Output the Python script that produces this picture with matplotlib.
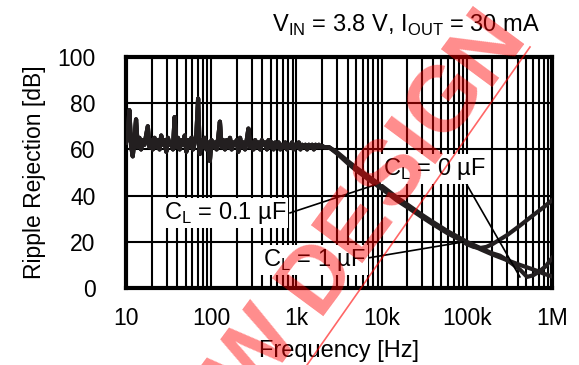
import matplotlib
matplotlib.use('Agg')
import matplotlib.pyplot as plt
import numpy as np
from matplotlib.ticker import FixedLocator, NullFormatter
from matplotlib.lines import Line2D

plt.rcParams['font.family'] = ['Liberation Sans', 'DejaVu Sans']
plt.rcParams['mathtext.fontset'] = 'custom'
plt.rcParams['mathtext.rm'] = 'Liberation Sans'

# noisy low-frequency part (10 Hz .. 2.2 kHz)
noise_db = [63, 65, 77, 62, 57, 64, 73, 61, 65, 60,
            64, 62, 66, 70, 61, 64, 60, 65, 61, 64,
            60, 66, 62, 64, 59, 65, 62, 63, 60, 74,
            61, 65, 60, 64, 62, 66, 59, 64, 61, 65,
            60, 63, 67, 82, 58, 64, 61, 65, 60, 63,
            55, 64, 61, 63, 60, 65, 72, 61, 64, 60,
            64, 61, 65, 60, 63, 62, 64, 59, 65, 61,
            63, 60, 64, 69, 61, 63, 60, 64, 61, 63,
            60, 64, 62, 63, 60, 64, 61, 63, 60, 63,
            61, 63, 60, 62, 61, 63, 60, 62, 61, 63,
            60, 62, 61, 63, 60, 62, 61, 62, 60, 62,
            61, 62, 60, 62, 61, 62, 61, 61.5, 61, 61]
noise_f = np.geomspace(10, 2200, len(noise_db))

# roll-off, nearly the same for all three loads
roll_f = [2.4e3, 3e3, 4e3, 5e3, 7e3, 10e3, 15e3, 20e3, 30e3, 40e3, 60e3, 80e3]
roll_db_0 = [61, 58.5, 54.5, 51.5, 47.5, 43.5, 38.5, 35.5, 31, 28, 24, 21.5]
roll_db_01 = [61, 58.8, 55, 52.2, 48.3, 44.3, 39.3, 36.2, 31.6, 28.6, 24.5, 22]
roll_db_1 = [61, 58.2, 54, 51, 47, 43, 38, 35, 30.6, 27.6, 23.6, 21.2]

# tails per load capacitance
f_0 = [100e3, 120e3, 143e3, 170e3, 200e3, 300e3, 420e3, 600e3, 800e3, 1e6]
db_0 = [19, 17.8, 17.3, 17.8, 19, 23, 27, 31.5, 35, 38]

f_01 = [100e3, 150e3, 200e3, 245e3, 300e3, 420e3, 510e3, 600e3, 700e3, 850e3, 1e6]
db_01 = [20, 17, 15, 14, 12, 8, 4.8, 5.5, 7, 9.5, 13]

f_1 = [100e3, 150e3, 200e3, 300e3, 420e3, 550e3, 660e3, 800e3, 1e6]
db_1 = [19.5, 16.5, 14.5, 12, 10, 8.5, 7.5, 6.2, 5]

xticks = [10, 100, 1e3, 1e4, 1e5, 1e6]
xticklabels = ['10', '100', '1k', '10k', '100k', '1M']
yticks = [0, 20, 40, 60, 80, 100]

W, H = 579, 365
fig = plt.figure(figsize=(W / 100, H / 100), dpi=100)
ax = fig.add_axes([126 / W, 1 - 288 / H, 426 / W, 231 / H])

ink = '#231f20'
for rdb, tf, tdb in [(roll_db_0, f_0, db_0), (roll_db_01, f_01, db_01), (roll_db_1, f_1, db_1)]:
    f = np.concatenate([noise_f, roll_f, tf])
    d = np.concatenate([noise_db, rdb, tdb])
    ax.plot(f, d, color=ink, lw=3, solid_joinstyle='round', zorder=3)

ax.set_xscale('log')
ax.set_xlim(10, 1e6)
ax.set_ylim(0, 100)
ax.xaxis.set_major_locator(FixedLocator(xticks))
ax.set_xticklabels(xticklabels)
minors = [m * 10 ** e for e in range(1, 6) for m in range(2, 10)]
ax.xaxis.set_minor_locator(FixedLocator(minors))
ax.xaxis.set_minor_formatter(NullFormatter())
ax.set_yticks(yticks)
ax.grid(True, which='both', axis='x', color='black', lw=1.5, zorder=1)
ax.grid(True, which='major', axis='y', color='black', lw=1.5, zorder=1)
ax.tick_params(which='both', length=0, labelsize=16.5)
ax.tick_params(axis='x', pad=14)
ax.tick_params(axis='y', pad=22)
for s in ax.spines.values():
    s.set_linewidth(3)

ax.set_xlabel('Frequency [Hz]', fontsize=17, labelpad=7)
ax.set_ylabel('Ripple Rejection [dB]', fontsize=16.5, labelpad=8)

# labels with leader lines
box = dict(facecolor='white', edgecolor='none', pad=1.5)
ax.plot([96e3, 420e3], [45.9, 4.8], color='black', lw=1.2, zorder=4)
ax.plot([841, 8.3e3], [32.5, 44.6], color='black', lw=1.2, zorder=4)
ax.plot([6.9e3, 90e3], [13, 19.9], color='black', lw=1.2, zorder=4)
ax.text(42e3, 51.5, r'C$_\mathregular{L}$ = 0 µF', fontsize=17, ha='center', va='center', bbox=box, zorder=5)
ax.text(145, 32.5, r'C$_\mathregular{L}$ = 0.1 µF', fontsize=17, ha='center', va='center', bbox=box, zorder=5)
ax.text(1.61e3, 12.1, r'C$_\mathregular{L}$ = 1 µF', fontsize=17, ha='center', va='center', bbox=box, zorder=5)

fig.text(540 / W, 1 - 32 / H, r'V$_\mathregular{IN}$ = 3.8 V, I$_\mathregular{OUT}$ = 30 mA',
         fontsize=17, ha='right', va='baseline')

# watermark: letters set one by one along a diagonal
wm_size = 66
em = wm_size * 100 / 72
track = 0
ang = 53.5
ux, uy = np.cos(np.radians(ang)), -np.sin(np.radians(ang))
adv = {'N': .722, 'E': .667, 'W': .944, ' ': .278, 'D': .722, 'S': .667, 'I': .278, 'G': .778}
word = 'NEW DESIGN'
d_idx = word.index('D')
pos = [0.0] * len(word)
for i in range(d_idx + 1, len(word)):
    pos[i] = pos[i - 1] + (adv[word[i - 1]] + adv[word[i]]) / 2 * em + track
for i in range(d_idx - 1, -1, -1):
    pos[i] = pos[i + 1] - (adv[word[i + 1]] + adv[word[i]]) / 2 * em - track
x0, y0 = 318, 275
for ch, p in zip(word, pos):
    if ch == ' ':
        continue
    px, py = x0 + p * ux, y0 + p * uy
    fig.text(px / W, 1 - py / H, ch, fontsize=wm_size, fontweight='bold', color='red', alpha=0.45,
             rotation=ang, ha='center', va='center', rotation_mode='anchor', zorder=10)
fig.add_artist(Line2D([530 / W, 300 / W], [1 - 47 / H, 1 - 375 / H],
                      transform=fig.transFigure, color='red', alpha=0.6, lw=1.2, zorder=10))

fig.savefig('out.png', dpi=100)
